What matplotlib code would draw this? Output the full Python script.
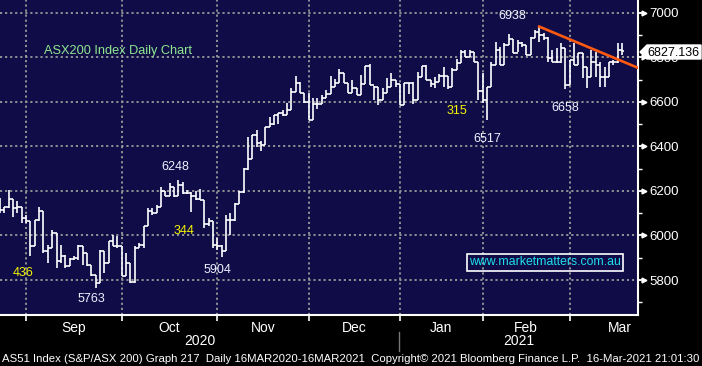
import numpy as np
import matplotlib
matplotlib.use("Agg")
import matplotlib.pyplot as plt
from matplotlib.collections import LineCollection
from matplotlib.patches import Polygon
from matplotlib import font_manager

# fonts: Bloomberg uses a narrow sans, take Liberation Sans Narrow when there
names = {f.name for f in font_manager.fontManager.ttflist}
narrow = "Liberation Sans Narrow" if "Liberation Sans Narrow" in names else "Liberation Sans"
plt.rcParams['font.family'] = 'Liberation Sans'

# ---- data: daily bars, index 0 = 24 Aug 2020, last = 17 Mar 2021 (partial) ----
opens = [6130, 6115, 6127, 6163, 6123, 6127, 6078, 6063, 5951, 6068, 6112, 5929,
         5943, 6011, 5884, 5906, 5861, 5894, 5899, 5954, 5921, 5869, 5824, 5786,
         5929, 5876, 5973, 5954, 5951, 5819, 5876, 5789, 5943, 5958, 6041, 6108,
         6103, 6130, 6198, 6178, 6217, 6175, 6227, 6190, 6190, 6175, 6163, 6160,
         6053, 6063, 5958, 5951, 5929, 6070, 6070, 6142, 6193, 6298, 6343, 6452,
         6417, 6404, 6486, 6499, 6541, 6549, 6541, 6564, 6646, 6686, 6638, 6601,
         6519, 6589, 6589, 6616, 6634, 6665, 6686, 6728, 6683, 6641, 6661, 6631,
         6680, 6761, 6676, 6668, 6609, 6641, 6665, 6698, 6680, 6586, 6683, 6683,
         6609, 6713, 6761, 6698, 6680, 6691, 6716, 6716, 6665, 6743, 6773, 6825,
         6800, 6825, 6780, 6650, 6609, 6665, 6766, 6833, 6766, 6855, 6881, 6821,
         6863, 6855, 6810, 6885, 6915, 6900, 6885, 6795, 6780, 6780, 6840, 6676,
         6788, 6766, 6818, 6758, 6713, 6780, 6766, 6713, 6713, 6780, 6780, 6833]
highs = [6168, 6130, 6202, 6163, 6153, 6130, 6093, 6063, 6070, 6130, 6112, 5958,
         6026, 6011, 5958, 5914, 5899, 5906, 5958, 5954, 5921, 5869, 5824, 5936,
         5929, 5973, 6003, 5996, 5951, 5921, 5876, 5951, 5966, 6041, 6123, 6123,
         6138, 6217, 6198, 6235, 6217, 6248, 6242, 6202, 6193, 6198, 6208, 6160,
         6078, 6063, 5988, 5958, 6093, 6101, 6146, 6198, 6302, 6444, 6452, 6474,
         6422, 6489, 6534, 6541, 6549, 6564, 6594, 6661, 6716, 6691, 6638, 6641,
         6616, 6616, 6631, 6653, 6716, 6701, 6746, 6728, 6683, 6698, 6661, 6721,
         6761, 6770, 6671, 6668, 6661, 6706, 6728, 6698, 6680, 6683, 6683, 6691,
         6736, 6761, 6764, 6698, 6713, 6725, 6758, 6716, 6751, 6791, 6833, 6833,
         6833, 6825, 6780, 6730, 6665, 6780, 6870, 6848, 6863, 6905, 6881, 6878,
         6870, 6855, 6890, 6922, 6938, 6907, 6890, 6833, 6840, 6863, 6840, 6788,
         6863, 6818, 6818, 6758, 6833, 6825, 6780, 6758, 6780, 6788, 6863, 6863]
lows = [6100, 6100, 6123, 6085, 6100, 6058, 6058, 5909, 5951, 6063, 5921, 5876,
        5943, 5854, 5876, 5854, 5861, 5891, 5891, 5869, 5861, 5816, 5763, 5786,
        5831, 5876, 5951, 5943, 5816, 5816, 5786, 5786, 5943, 5943, 6041, 6093,
        6100, 6130, 6175, 6175, 6172, 6175, 6187, 6187, 6105, 6160, 6160, 6033,
        6041, 5943, 5936, 5904, 5929, 6003, 6063, 6142, 6190, 6295, 6343, 6399,
        6381, 6404, 6486, 6496, 6501, 6538, 6541, 6564, 6646, 6638, 6594, 6519,
        6519, 6567, 6589, 6616, 6634, 6665, 6686, 6683, 6638, 6638, 6631, 6631,
        6680, 6676, 6609, 6586, 6609, 6641, 6665, 6668, 6586, 6586, 6636, 6591,
        6606, 6713, 6698, 6665, 6661, 6691, 6665, 6656, 6665, 6743, 6773, 6800,
        6800, 6780, 6609, 6594, 6517, 6665, 6766, 6766, 6766, 6855, 6821, 6825,
        6848, 6810, 6810, 6885, 6870, 6878, 6780, 6780, 6773, 6773, 6658, 6676,
        6766, 6766, 6706, 6661, 6713, 6713, 6668, 6665, 6713, 6766, 6773, 6810]
closes = [6115, 6127, 6163, 6123, 6127, 6078, 6063, 5951, 6068, 6112, 5929, 5943,
          6011, 5884, 5906, 5861, 5894, 5899, 5954, 5921, 5869, 5824, 5786, 5929,
          5876, 5973, 5954, 5951, 5819, 5876, 5789, 5943, 5958, 6041, 6108, 6103,
          6130, 6198, 6178, 6217, 6175, 6227, 6190, 6190, 6175, 6163, 6160, 6053,
          6063, 5958, 5951, 5929, 6070, 6070, 6142, 6193, 6298, 6343, 6452, 6417,
          6404, 6486, 6499, 6541, 6549, 6541, 6564, 6646, 6686, 6638, 6601, 6519,
          6589, 6589, 6616, 6634, 6665, 6686, 6728, 6683, 6641, 6661, 6631, 6680,
          6761, 6676, 6668, 6609, 6641, 6665, 6698, 6680, 6586, 6683, 6683, 6609,
          6713, 6761, 6698, 6680, 6691, 6716, 6716, 6665, 6743, 6773, 6825, 6800,
          6825, 6780, 6650, 6609, 6665, 6766, 6833, 6766, 6855, 6881, 6821, 6863,
          6855, 6810, 6885, 6915, 6900, 6885, 6795, 6780, 6780, 6840, 6676, 6788,
          6766, 6818, 6758, 6713, 6780, 6766, 6713, 6713, 6780, 6780, 6833, 6827.136]

months = ["Sep", "Oct", "Nov", "Dec", "Jan", "Feb", "Mar"]
month_start = [6, 28, 50, 71, 92, 111, 131]   # bar index of first trading day
month_days = [22, 22, 21, 21, 19, 20, 23]     # trading days in the month
years = ["2020", "2021"]
year_start = 92                                # first bar of 2021

# swing labels: (bar index, price position, text)
swing_white = [(21.1, 5715, "5763"), (40.2, 6307, "6248"), (50.1, 5845, "5904"),
               (112, 6433, "6517"), (117.9, 6985, "6938"), (129.9, 6572, "6658")]
swing_yellow = [(5.3, 5832, "436"), (42.3, 6020, "344"), (105.1, 6559, "315")]

trend_x = [123.7, 147]
trend_y = [6940, 6750]
last_price = 6827.136

# ---- figure ----
W, H = 702, 366
fig = plt.figure(figsize=(W / 100, H / 100), dpi=100, facecolor="black")
ax = fig.add_axes([0, 51 / H, 638 / W, 315 / H])
ax.set_facecolor("#0f0c47")
ax.set_xlim(0, 146.7)
ax.set_ylim(5643, 7057)

# grid
grid_kw = dict(color="#9a9a9a", lw=1.3, ls=(0, (1.2, 1.6)), zorder=1)
for v in range(5800, 7001, 200):
    ax.axhline(v, **grid_kw)
for m in month_start:
    ax.axvline(m, **grid_kw)

# OHLC bars
x = np.arange(len(closes))
segs = []
for i in x:
    segs.append([(i, lows[i]), (i, highs[i])])
    segs.append([(i - 0.5, opens[i]), (i, opens[i])])
    segs.append([(i, closes[i]), (i + 0.5, closes[i])])
ax.add_collection(LineCollection(segs, colors="white", linewidths=1.2, zorder=3))

# trend line
ax.plot(trend_x, trend_y, color="#ff5a12", lw=1.9, zorder=4, solid_capstyle="butt")

# texts
ax.text(27.1, 6828, "ASX200 Index Daily Chart", color="#8fe88f", fontsize=9.2,
        ha="center", va="center")
for xi, yi, t in swing_white:
    ax.text(xi, yi, t, color="#f0f0ff", fontsize=9, ha="center", va="center", zorder=5)
for xi, yi, t in swing_yellow:
    ax.text(xi, yi, t, color="#f5f500", fontsize=9, ha="center", va="center", zorder=5)
ax.text(125.3, 5879, "www.marketmatters.com.au", color="#1ee0ec", fontsize=8.8,
        ha="center", va="center", zorder=5,
        bbox=dict(boxstyle="square,pad=0.18", fc="none", ec="white", lw=1.2))

# spines
for s in ["left", "top"]:
    ax.spines[s].set_visible(False)
for s in ["right", "bottom"]:
    ax.spines[s].set_color("white")
    ax.spines[s].set_linewidth(1.5)

# y axis on the right
ax.yaxis.tick_right()
ax.set_yticks(range(5800, 7001, 200))
ax.set_yticks(range(5700, 7001, 100), minor=True)
ax.tick_params(axis="y", which="major", colors="white", labelsize=9.5, length=5,
               width=1.3, pad=3)
ax.tick_params(axis="y", which="minor", colors="white", length=3, width=1)
for v in range(5800, 7001, 200):
    ax.plot([1.0 + 6 / 638], [v], marker=">", ms=3.5, color="white", mec="white",
            transform=ax.get_yaxis_transform(), clip_on=False, zorder=6)

# x axis: month boundaries as ticks, names between
ax.set_xticks(month_start)
ax.set_xticklabels([])
ax.set_xticks([s + d / 2 for s, d in zip(month_start, month_days)], minor=True)
ax.set_xticklabels(months, minor=True, fontfamily=narrow)
ax.tick_params(axis="x", which="major", colors="white", length=4, width=1.2)
ax.tick_params(axis="x", which="minor", length=0, pad=4, labelsize=10,
               labelcolor="white")

xmax = ax.get_xlim()[1]
year_x = [year_start / 2, (year_start + xmax) / 2]
tr = ax.get_xaxis_transform()
for xi, t in zip(year_x, years):
    ax.text(xi, -0.083, t, transform=tr, color="white", fontsize=10,
            fontfamily=narrow, ha="center", va="center")
ax.plot([year_start - 0.3, year_start - 0.3], [-0.055, -0.115], transform=tr,
        color="#777777", lw=1, clip_on=False)

# last price flag
def fx(px, py):
    return (px / W, 1 - py / H)

flag = Polygon([fx(640, 52), fx(647, 45), fx(701, 45), fx(701, 59), fx(647, 59)],
               closed=True, transform=fig.transFigure, fc="white", ec="white", zorder=5)
fig.patches.append(flag)
fig.text(*fx(673, 52.5), f"{last_price:.3f}", color="black", fontsize=9,
         ha="center", va="center", zorder=6)

footer = ("AS51 Index (S&P/ASX 200) Graph 217  Daily 16MAR2020-16MAR2021  "
          "Copyright\u00a9 2021 Bloomberg Finance L.P.  16-Mar-2021 21:01:30")
ft = fig.text(*fx(2, 359), footer, color="white", fontsize=9, fontfamily=narrow,
              ha="left", va="center")
# fit footer to the width of the picture
r = fig.canvas.get_renderer()
w = ft.get_window_extent(r).width
ft.set_fontsize(9 * 698 / w)

fig.savefig("out.png", dpi=100, facecolor="black")
